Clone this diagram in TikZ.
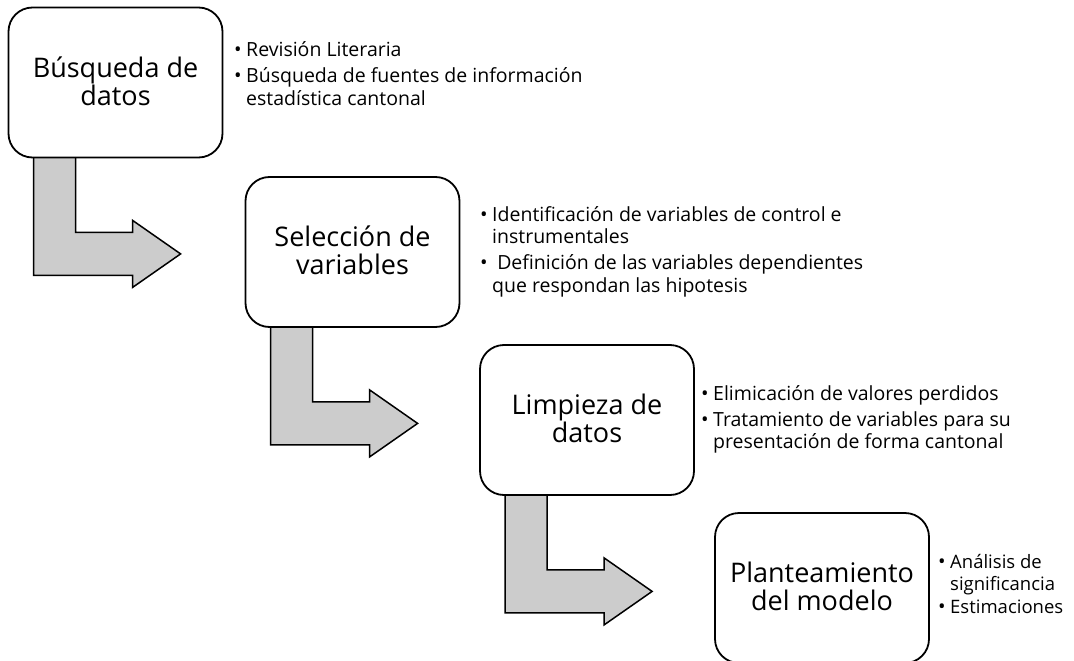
\documentclass[tikz,border=0pt]{standalone}
\usepackage{fontspec}
\setmainfont{Open Sans}
\usetikzlibrary{calc,backgrounds}
\definecolor{arrowgray}{RGB}{204,204,204}
\newcommand{\bulletmark}{\makebox[12pt][l]{\fontsize{20}{20}\selectfont\raisebox{0pt}{•}}}
\newcommand{\hangpad}{\hspace*{12pt}}
\newcommand{\lowered}[1]{\raisebox{-2pt}[\height][\depth]{#1}}
\begin{document}
\begin{tikzpicture}[x=1pt,y=-1pt,
  stepbox/.style={draw=black, line width=1.8pt, fill=white, rounded corners=24pt,
    minimum width=214pt, minimum height=150pt, inner sep=0pt, align=center,
    font=\fontsize{27}{24.5}\selectfont},
  blockarrow/.style={draw=black, line width=1.5pt, fill=arrowgray, line join=miter},
  notes/.style={anchor=base west, inner sep=0pt, font=\fontsize{19.5}{22.5}\selectfont},
  smallnotes/.style={notes, font=\fontsize{18.5}{22}\selectfont}]
\useasboundingbox (0,0) rectangle (1074,661);

% steps
\node[stepbox] (b1) at (115.5,82.5) {\lowered{\begin{tabular}{c}Búsqueda de\\datos\end{tabular}}};
\node[stepbox] (b2) at (352.5,252) {\lowered{\begin{tabular}{c}Selección de\\variables\end{tabular}}};
\node[stepbox] (b3) at (587,420) {\lowered{\begin{tabular}{c}Limpieza de\\datos\end{tabular}}};
\node[stepbox] (b4) at (822,588) {\lowered{\begin{tabular}{c}Planteamiento\\del modelo\end{tabular}}};

% bent block arrows, behind the boxes
\begin{scope}[on background layer]
\foreach \s in {b1,b2,b3}{
  \draw[blockarrow] ($(\s.south west)+(26,-10)$) -- ++(0,127) -- ++(99,0) -- ++(0,12)
    -- ++(48,-33.5) -- ++(-48,-33.5) -- ++(0,12) -- ++(-57,0) -- ++(0,-84) -- cycle;
}
\end{scope}

% notes
\node[notes] (n1) at (234,57) {\begin{tabular}[t]{@{}l@{}}
\bulletmark Revisión Literaria\\[3.5pt]
\bulletmark Búsqueda de fuentes de información\\
\hangpad estadística cantonal\end{tabular}};

\node[notes] (n2) at (480,221) {\begin{tabular}[t]{@{}l@{}}
\bulletmark Identificación de variables de control e\\
\hangpad instrumentales\\[3.5pt]
\bulletmark\ Definición de las variables dependientes\\
\hangpad que respondan las hipotesis\end{tabular}};

\node[notes] (n3) at (701,400) {\begin{tabular}[t]{@{}l@{}}
\bulletmark Elimicación de valores perdidos\\[3.5pt]
\bulletmark Tratamiento de variables para su\\
\hangpad presentación de forma cantonal\end{tabular}};

\node[smallnotes] (n4) at (938,568) {\begin{tabular}[t]{@{}l@{}}
\bulletmark Análisis de\\
\hangpad significancia\\[1pt]
\bulletmark Estimaciones\end{tabular}};
\end{tikzpicture}
\end{document}
